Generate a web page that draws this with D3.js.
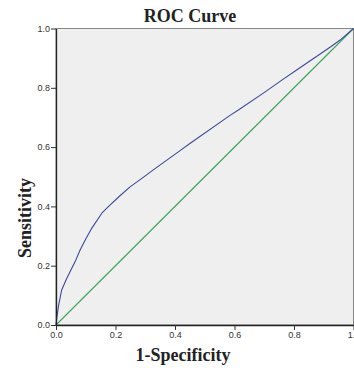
<!DOCTYPE html>
<html>
<head>
<meta charset="utf-8">
<script src="https://cdn.jsdelivr.net/npm/d3@7"></script>
<style>
  body { margin: 0; background: #fff; }
  svg { display: block; }
</style>
</head>
<body>
<div id="chart"></div>
<script>
  'use strict';
  // ROC curve points
  var fpr = [0, 0.004, 0.008, 0.019, 0.036, 0.053, 0.064, 0.081, 0.1, 0.12, 0.154, 0.176,
    0.215, 0.249, 0.277, 0.3, 0.327, 0.417, 0.45, 0.585, 0.613, 0.697, 0.759, 0.809, 0.921, 0.955, 1];
  var tpr = [0, 0.034, 0.062, 0.118, 0.157, 0.191, 0.213, 0.253, 0.29, 0.326, 0.377, 0.399,
    0.436, 0.466, 0.486, 0.503, 0.523, 0.588, 0.612, 0.707, 0.725, 0.782, 0.826, 0.86, 0.937, 0.961, 1];
  var refX = [0, 1];
  var refY = [0, 1];
  var ticks = [0, 0.2, 0.4, 0.6, 0.8, 1.0];

  (function() {
    var width = 354,
      height = 368,
      padLeft = 56,
      padRight = 353.5,
      padTop = 28.5,
      padBottom = 325;

    var x = d3.scaleLinear().domain([0, 1]).range([padLeft, padRight]);
    var y = d3.scaleLinear().domain([0, 1]).range([padBottom, padTop]);

    var svg = d3.select('#chart')
      .append('svg')
      .attr('width', width)
      .attr('height', height);

    // plot background
    svg.append('rect')
      .attr('x', padLeft)
      .attr('y', padTop)
      .attr('width', padRight - padLeft)
      .attr('height', padBottom - padTop)
      .attr('fill', '#efefef')
      .attr('stroke', '#888')
      .attr('stroke-width', 1);

    var line = d3.line()
      .x(function(d) { return x(d[0]); })
      .y(function(d) { return y(d[1]); });

    svg.append('path')
      .datum(d3.zip(refX, refY))
      .attr('d', line)
      .attr('fill', 'none')
      .attr('stroke', '#3aa657')
      .attr('stroke-width', 1.1);

    svg.append('path')
      .datum(d3.zip(fpr, tpr))
      .attr('d', line)
      .attr('fill', 'none')
      .attr('stroke', '#3a4a9c')
      .attr('stroke-width', 1.1)
      .attr('stroke-linejoin', 'round');

    var fmt = d3.format('.1f');

    var xAxis = svg.append('g')
      .attr('transform', 'translate(0,' + padBottom + ')')
      .call(d3.axisBottom(x).tickValues(ticks).tickFormat(fmt).tickSize(5).tickSizeOuter(0));

    var yAxis = svg.append('g')
      .attr('transform', 'translate(' + padLeft + ',0)')
      .call(d3.axisLeft(y).tickValues(ticks).tickFormat(fmt).tickSize(5).tickSizeOuter(0));

    [xAxis, yAxis].forEach(function(a) {
      a.select('.domain').attr('stroke', '#222').attr('stroke-width', 1.3);
      a.selectAll('.tick line').attr('stroke', '#333');
      a.selectAll('.tick text')
        .attr('fill', '#333')
        .style('font-family', 'Arial, "Liberation Sans", sans-serif')
        .style('font-size', '9px');
    });
    xAxis.selectAll('.tick text').attr('dy', '0.9em').attr('y', 5);
    yAxis.selectAll('.tick text').attr('x', -6);

    var serif = '"Times New Roman", "Liberation Serif", serif';

    svg.append('text')
      .attr('x', 190)
      .attr('y', 22)
      .attr('text-anchor', 'middle')
      .style('font-family', serif)
      .style('font-weight', 'bold')
      .style('font-size', '18px')
      .attr('fill', '#222')
      .text('ROC Curve');

    svg.append('text')
      .attr('x', 183)
      .attr('y', 361)
      .attr('text-anchor', 'middle')
      .style('font-family', serif)
      .style('font-weight', 'bold')
      .style('font-size', '18px')
      .attr('fill', '#222')
      .text('1-Specificity');

    svg.append('text')
      .attr('transform', 'translate(31,218) rotate(-90)')
      .attr('text-anchor', 'middle')
      .style('font-family', serif)
      .style('font-weight', 'bold')
      .style('font-size', '18px')
      .attr('fill', '#222')
      .text('Sensitivity');
  })();
</script>
</body>
</html>
